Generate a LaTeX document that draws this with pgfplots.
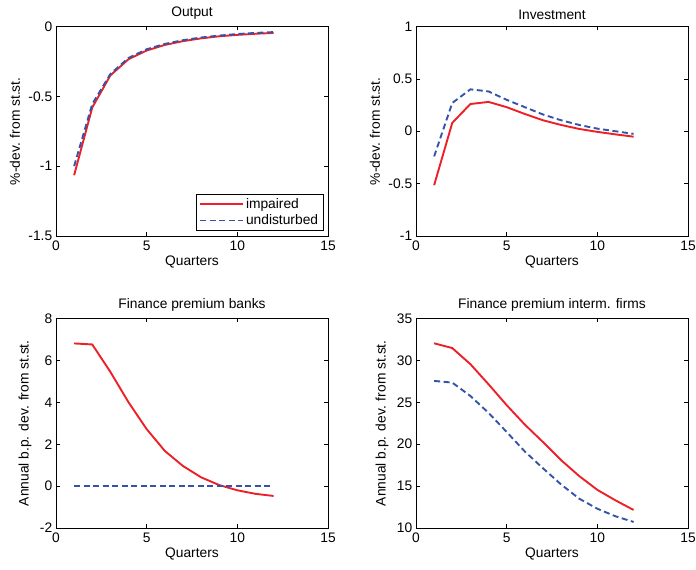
\documentclass[border=0pt]{standalone}
\usepackage{fontspec}
\setmainfont{Liberation Sans}
\usepackage{pgfplots}
\pgfplotsset{compat=1.18}
\definecolor{mred}{RGB}{237,32,40}
\definecolor{mblue}{RGB}{52,84,170}
\newcommand{\mfont}{\fontsize{13.8}{16}\selectfont}
\pgfplotsset{
  every axis/.append style={
    scale only axis,
    width=272pt, height=209.5pt,
    xmin=0, xmax=15,
    xtick={0,5,10,15},
    tick align=inside,
    major tick length=4pt,
    tick style={black, line width=0.5pt},
    axis line style={black, line width=0.6pt},
    /pgf/number format/assume math mode=true,
    /pgf/number format/fixed,
    xlabel={Quarters},
    xlabel style={yshift=4pt},
    title style={yshift=-4pt},
    ylabel style={yshift=-1pt},
    yticklabel style={xshift=1pt},
  },
  tick label style={font=\mfont},
  label style={font=\mfont},
  title style={font=\mfont},
  impaired/.style={mred, line width=1.9pt, no marks},
  undisturbed/.style={mblue, line width=1.9pt, dash pattern=on 6pt off 3.5pt, no marks},
}
\begin{document}
\mfont
\begin{tikzpicture}
\path[use as bounding box] (0pt,0pt) rectangle (696pt,570pt);

\begin{axis}[at={(56pt,334pt)}, anchor=south west,
  title={Output}, ylabel={\%-dev. from st.st.},
  ymin=-1.5, ymax=0, ytick={-1.5,-1,-0.5,0},
  legend style={at={(0.983,0.025)}, anchor=south east, draw=black, line width=0.5pt,
    font=\mfont, inner xsep=3pt, inner ysep=2pt},
  legend cell align=left,
  legend image code/.code={\draw[#1] (0pt,0pt) -- (43pt,0pt);},
]
\addplot[impaired] coordinates {(1,-1.065) (2,-0.58) (3,-0.35) (4,-0.234) (5,-0.172) (6,-0.132) (7,-0.105) (8,-0.085) (9,-0.07) (10,-0.06) (11,-0.052) (12,-0.046)};
\addplot[undisturbed] coordinates {(1,-1.0) (2,-0.555) (3,-0.34) (4,-0.225) (5,-0.163) (6,-0.125) (7,-0.098) (8,-0.079) (9,-0.065) (10,-0.054) (11,-0.046) (12,-0.04)};
\legend{impaired, undisturbed}
\end{axis}

\begin{axis}[at={(416pt,334pt)}, anchor=south west,
  title={Investment}, ylabel={\%-dev. from st.st.},
  ymin=-1, ymax=1, ytick={-1,-0.5,0,0.5,1},
]
\addplot[impaired] coordinates {(1,-0.515) (2,0.08) (3,0.26) (4,0.28) (5,0.23) (6,0.165) (7,0.105) (8,0.06) (9,0.022) (10,-0.006) (11,-0.03) (12,-0.052)};
\addplot[undisturbed] coordinates {(1,-0.24) (2,0.27) (3,0.40) (4,0.38) (5,0.30) (6,0.23) (7,0.16) (8,0.105) (9,0.06) (10,0.025) (11,0.0) (12,-0.025)};
\end{axis}

\begin{axis}[at={(56pt,42pt)}, anchor=south west,
  title={Finance premium banks}, ylabel={Annual b.p. dev. from st.st.},
  ymin=-2, ymax=8, ytick={-2,0,2,4,6,8},
]
\addplot[impaired] coordinates {(1,6.81) (2,6.76) (3,5.45) (4,4.0) (5,2.72) (6,1.68) (7,0.96) (8,0.42) (9,0.05) (10,-0.2) (11,-0.37) (12,-0.47)};
\addplot[undisturbed] coordinates {(1,0) (2,0) (3,0) (4,0) (5,0) (6,0) (7,0) (8,0) (9,0) (10,0) (11,0) (12,0)};
\end{axis}

\begin{axis}[at={(416pt,42pt)}, anchor=south west,
  title={Finance premium interm. firms}, ylabel={Annual b.p. dev. from st.st.},
  ymin=10, ymax=35, ytick={10,15,20,25,30,35},
]
\addplot[impaired] coordinates {(1,32.04) (2,31.47) (3,29.55) (4,27.15) (5,24.66) (6,22.34) (7,20.26) (8,18.1) (9,16.2) (10,14.55) (11,13.3) (12,12.15)};
\addplot[undisturbed] coordinates {(1,27.55) (2,27.35) (3,25.75) (4,23.74) (5,21.46) (6,19.13) (7,17.13) (8,15.2) (9,13.5) (10,12.3) (11,11.4) (12,10.72)};
\end{axis}
\end{tikzpicture}
\end{document}
